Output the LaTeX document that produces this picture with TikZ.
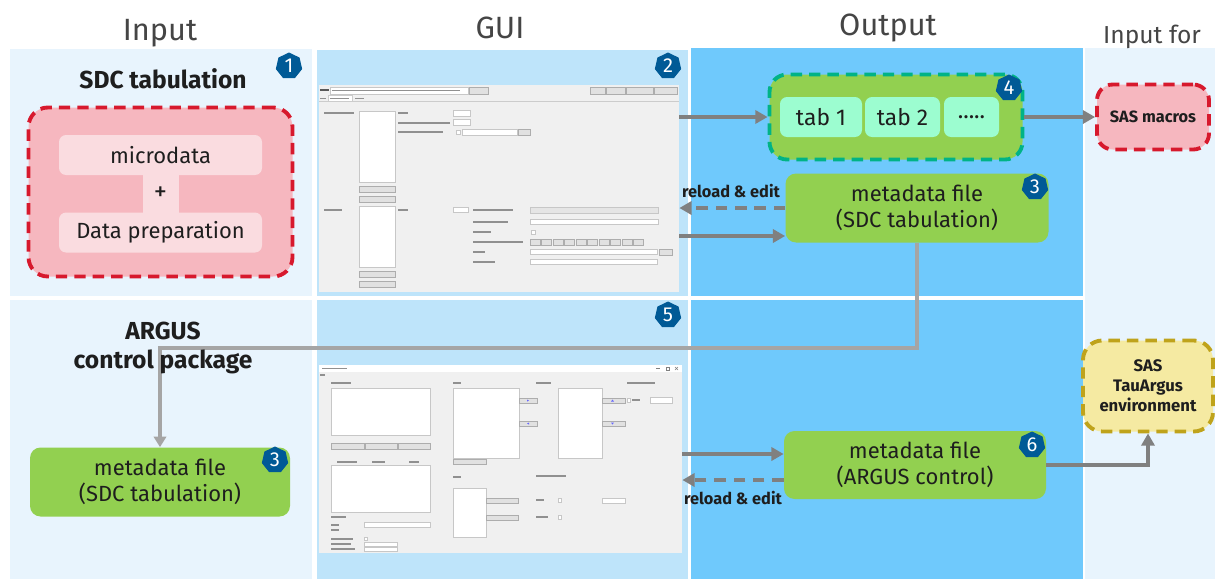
\documentclass[tikz,border=0pt]{standalone}
\usepackage{fontspec}
\setmainfont{Fira Sans}
\usetikzlibrary{arrows.meta,shapes.geometric,calc}
\definecolor{pale}{HTML}{E8F4FD}
\definecolor{guiblue}{HTML}{BEE4FA}
\definecolor{outblue}{HTML}{6FC9FC}
\definecolor{grn}{HTML}{92D050}
\definecolor{mint}{HTML}{9CFDD0}
\definecolor{tealB}{HTML}{00B386}
\definecolor{redB}{HTML}{D7192D}
\definecolor{pinkF}{HTML}{F6B7BF}
\definecolor{pinkL}{HTML}{FADCE0}
\definecolor{yelF}{HTML}{F5EAA2}
\definecolor{yelB}{HTML}{BFA31B}
\definecolor{arrG}{HTML}{808080}
\definecolor{lineG}{HTML}{A5A5A5}
\definecolor{badgeB}{HTML}{005A96}
\definecolor{txt}{HTML}{1E1E1E}
\definecolor{ttlc}{HTML}{454545}
\definecolor{scr}{HTML}{F0F0F0}
\definecolor{btn}{HTML}{E1E1E1}
\definecolor{btnB}{HTML}{ADADAD}
\definecolor{lblc}{HTML}{909090}
\def\PX{0.02cm}
\newcommand\scrW[4]{\filldraw[fill=white,draw=black!22,line width=0.2pt] (#1,#2) rectangle (#3,#4);}
\newcommand\scrB[4]{\filldraw[fill=btn,draw=btnB,line width=0.2pt] (#1,#2) rectangle (#3,#4);}
\newcommand\scrL[3]{\fill[lblc] (#1,#2-0.6) rectangle (#1+#3,#2+0.6);}
\tikzset{
  ttl/.style={text=ttlc, font=\fontsize{17.5}{20}\selectfont, inner sep=0pt},
  hdr/.style={text=txt, font=\bfseries\fontsize{14}{16.3}\selectfont, align=center, inner sep=0pt},
  gbox/.style={fill=grn, rounded corners=6pt, text=txt, align=center,
     font=\fontsize{12.5}{14.5}\selectfont, inner sep=0pt},
  tabbox/.style={fill=mint, rounded corners=4pt, text=txt,
     font=\fontsize{13}{15}\selectfont, inner sep=0pt, minimum height=40*\PX},
  badge/.style={regular polygon, regular polygon sides=7, fill=badgeB, text=white,
     inner sep=0pt, minimum size=27*\PX, font=\fontsize{11.5}{12}\selectfont},
  pinkbox/.style={fill=pinkL, rounded corners=4pt, text=txt, inner sep=0pt,
     font=\fontsize{12.5}{14.5}\selectfont},
  reddash/.style={draw=redB, line width=2.2pt, dash pattern=on 6.5pt off 4pt},
  smallb/.style={text=txt, font=\bfseries\fontsize{9.3}{11}\selectfont, align=center, inner sep=0pt},
  arr/.style={draw=arrG, line width=2.4pt, -{Triangle[length=7pt,width=7.5pt]}},
  darr/.style={arr, dash pattern=on 6.5pt off 4.5pt},
  conn/.style={draw=lineG, line width=1.8pt, -{Triangle[length=6pt,width=7pt]}},
  shot/.style={fill=scr, inner sep=0pt},
}
\begin{document}
\begin{tikzpicture}[x=0.02cm,y=-0.02cm]
\useasboundingbox (0,0) rectangle (1215,579);
\fill[white] (0,0) rectangle (1215,579);
% column panels
\fill[pale] (10,49) rectangle (312,296);
\fill[pale] (10,300) rectangle (312,579);
\fill[guiblue] (317,50) rectangle (688,296);
\fill[guiblue] (317,300) rectangle (688,579);
\fill[outblue] (691,48) rectangle (1083,296);
\fill[outblue] (691,300) rectangle (1083,579);
\fill[pale] (1085,48) rectangle (1215,579);

% titles
\node[ttl, anchor=base] (tIn) at (160,40) {Input};
\node[ttl, anchor=base] (tGui) at (500,38) {GUI};
\node[ttl, anchor=base] (tOut) at (888,35) {Output};
\node[ttl, anchor=base, font=\fontsize{14}{16}\selectfont] (tFor) at (1152,43) {Input for};

% ---------- screenshot 1 ----------
\node[shot, minimum width=360*\PX, minimum height=207*\PX] (gui1) at (499,188.5) {};
\fill[lblc!150] (320,89.4) rectangle (329,90.8);
\scrW{330}{87}{468}{94}
\scrL{332}{90.5}{128}
\scrB{469}{87}{488}{94}
\scrB{590}{87}{605}{94}
\scrB{606}{87}{625}{94}
\scrB{626}{87}{653}{94}
\scrB{654}{87}{677}{94}
\scrL{320}{98.5}{6}
\filldraw[fill=white,draw=black!20,line width=0.2pt] (328,95.5) rectangle (352,101.5);
\scrL{330}{98.5}{19}
\scrL{355}{98.5}{9}
\draw[black!20,line width=0.3pt] (319,101.5) -- (679,101.5);
\scrL{324}{113}{30}
\scrW{359}{111}{395}{182}
\scrB{359}{186}{395}{192}
\scrB{359}{196}{395}{202}
\scrL{398}{113}{10}
\scrW{453}{110}{470}{116}
\scrL{398}{123}{52}
\scrW{453}{119}{470}{125}
\scrL{398}{132}{45}
\scrW{456}{130}{460}{134}
\scrW{462}{129}{517}{135}
\scrB{518}{129}{530}{135}
\scrL{324}{210}{18}
\scrW{359}{206}{395}{267}
\scrB{359}{271}{395}{277}
\scrB{359}{281}{395}{287}
\scrL{398}{210}{10}
\scrW{453}{207}{468}{212}
\scrL{473}{210}{40}
\scrL{473}{222}{35}
\scrL{473}{232}{18}
\scrL{473}{242}{50}
\scrL{473}{252}{12}
\scrL{473}{262}{22}
\filldraw[fill=black!10,draw=black!22,line width=0.2pt] (530,207) rectangle (658,213);
\scrW{530}{219}{658}{224}
\scrW{531}{230}{535}{234}
\foreach \i in {0,...,9} {\scrB{530+\i*11.5}{239}{540+\i*11.5}{245}}
\scrW{530}{249}{657}{254}
\scrB{659}{249}{672}{255}
\scrW{530}{259}{657}{264}

% ---------- screenshot 2 ----------
\node[shot, minimum width=363*\PX, minimum height=188*\PX] (gui2) at (500.5,459) {};
\fill[white] (319,365) rectangle (682,372);
\scrL{322}{368.5}{25}
\draw[black!50,line width=0.3pt] (656,368.5) -- (660,368.5);
\draw[black!50,line width=0.3pt] (666,367) rectangle (669,370);
\draw[black!50,line width=0.3pt] (675,367) -- (678,370) (675,370) -- (678,367);
\scrL{320}{375}{5}
\scrL{331}{383}{20}
\scrW{331}{388}{430}{435}
\scrB{331}{443}{364}{449}
\scrB{365}{443}{397}{449}
\scrB{398}{443}{430}{449}
\scrL{337}{462}{20}
\scrL{372}{462}{13}
\scrL{409}{462}{10}
\scrW{331}{465}{430}{512}
\scrL{331}{517}{15}
\scrL{331}{525}{8}
\scrW{364}{522.5}{430}{527}
\scrL{331}{530}{8}
\scrL{331}{539}{22}
\scrW{364}{537.5}{367}{540.5}
\scrL{331}{544}{20}
\scrW{364}{542}{397}{546}
\scrL{331}{549}{24}
\scrW{364}{547}{397}{551}
\scrL{453}{383}{8}
\scrW{453}{388}{519}{458}
\scrB{519}{398}{537}{403}
\scrB{519}{421}{537}{426}
\scrB{453}{459}{486}{464}
\scrL{453}{477}{8}
\scrW{453}{488}{486}{537}
\scrB{486}{498}{518}{503}
\scrB{486}{515}{518}{520}
\scrL{536}{383}{15}
\scrW{558}{388}{602}{458}
\scrB{602}{398}{625}{403}
\scrB{602}{421}{625}{426}
\scrL{536}{476}{30}
\scrL{536}{500}{8}
\scrW{558}{498}{561}{502}
\scrW{602}{498}{625}{503}
\scrL{536}{517}{12}
\scrW{558}{515}{561}{519}
\scrL{627}{383}{28}
\scrW{627}{398}{630}{402}
\scrL{632}{400}{8}
\scrW{650}{397}{672}{403}
\fill[blue!60] (527,399.5) -- (529,400.5) -- (527,401.5) -- cycle;
\fill[blue!60] (529,422.5) -- (527,423.5) -- (529,424.5) -- cycle;
\fill[blue!60] (612.5,399.5) -- (614,401.5) -- (611,401.5) -- cycle;
\fill[blue!60] (611,422.5) -- (614,422.5) -- (612.5,424.5) -- cycle;

% ---------- input column ----------
\node[hdr, anchor=base] (sdc) at (163,88) {SDC tabulation};
\node[reddash, fill=pinkF, rounded corners=11pt, minimum width=264*\PX, minimum height=169*\PX] (inbox) at (160.5,192) {};
\node[pinkbox, minimum width=36*\PX, minimum height=40*\PX, rounded corners=0pt, font=\fontsize{15}{16}\selectfont] (plus) at (160.5,194) {+};
\node[pinkbox, minimum width=203*\PX, minimum height=40*\PX] (micro) at (160.5,155) {microdata};
\node[pinkbox, minimum width=203*\PX, minimum height=40*\PX] (prep) at (160.5,232.5) {Data preparation};
\node[badge] (b1) at (289,66) {1};

\node[gbox, minimum width=260*\PX, minimum height=69*\PX] (meta2) at (160,482) {metadata file\\(SDC tabulation)};
\node[badge] (b3b) at (275,460) {3};

% ---------- output column ----------
\node[fill=grn, draw=tealB, line width=2.2pt, dash pattern=on 6.5pt off 4pt, rounded corners=10pt,
      minimum width=253*\PX, minimum height=85*\PX, inner sep=0pt] (tabs) at (896,117) {};
\node[tabbox, minimum width=82*\PX] (tab1) at (821,117) {tab 1};
\node[tabbox, minimum width=75*\PX] (tab2) at (902.5,117) {tab 2};
\node[tabbox, minimum width=55*\PX] (tab3) at (971.5,117) {.....};
\node[badge] (b4) at (1009,88) {4};
\node[badge] (b2) at (668,66) {2};

\node[gbox, minimum width=263*\PX, minimum height=69*\PX] (meta1) at (917,208) {metadata file\\(SDC tabulation)};
\node[badge] (b3a) at (1035,187) {3};

\node[gbox, minimum width=262*\PX, minimum height=68*\PX] (meta3) at (915,465) {metadata file\\(ARGUS control)};
\node[badge] (b6) at (1032,445) {6};
\node[badge] (b5) at (668,315) {5};

% ---------- input-for column ----------
\node[reddash, fill=pinkF, rounded corners=9pt, minimum width=112*\PX, minimum height=65*\PX, smallb] (sasm) at (1153,117) {SAS macros};
\node[draw=yelB, line width=2.2pt, dash pattern=on 6.5pt off 4pt, fill=yelF, rounded corners=11pt,
      minimum width=130*\PX, minimum height=91*\PX, smallb, font=\bfseries\fontsize{9.5}{11.3}\selectfont] (sast) at (1148,386) {SAS\\TauArgus\\environment};

% ---------- connectors ----------
\draw[arr] (gui1.east |- tabs.west) -- (tabs.west);
\draw[darr] (meta1.west) -- (meta1.west -| gui1.east);
\coordinate (m1in) at ($(meta1.west)+(0,28)$);
\draw[arr] (m1in -| gui1.east) -- (m1in);
\node[smallb] (rl1) at (731,191) {reload \& edit};
\draw[arr] (tabs.east) -- (sasm.west);

\coordinate (hy) at (0,348);
\draw[conn] (meta1.south) -- (meta1.south |- hy) -| (meta2.north);

\coordinate (m3a) at ($(meta3.west)+(0,-11)$);
\draw[arr] (m3a -| gui2.east) -- (m3a);
\coordinate (m3b) at ($(meta3.west)+(0,15)$);
\draw[darr] (m3b) -- (m3b -| gui2.east);
\node[smallb] (rl2) at (733,498) {reload \& edit};
\draw[arr] (meta3.east) -| (sast.south);

\node[hdr] (argus) at (163,348) {ARGUS\\control package};
\end{tikzpicture}
\end{document}
